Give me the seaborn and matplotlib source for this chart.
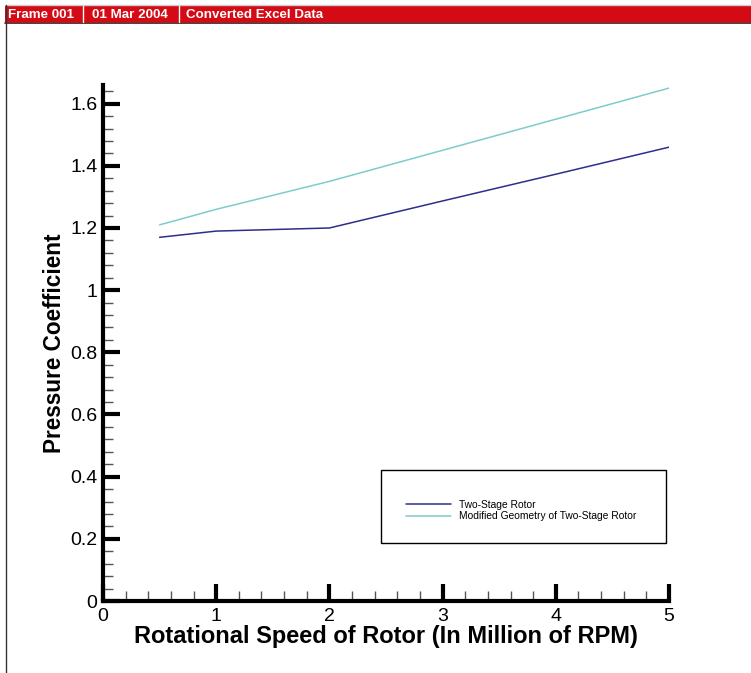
import matplotlib
matplotlib.use("Agg")
import matplotlib.pyplot as plt
import seaborn as sns
import pandas as pd
from matplotlib.patches import Rectangle
from matplotlib.lines import Line2D
from matplotlib.ticker import MultipleLocator, FuncFormatter

speed = [0.5, 1, 2, 3, 4, 5]
two_stage = [1.17, 1.19, 1.20, 1.287, 1.373, 1.46]
modified = [1.21, 1.26, 1.35, 1.45, 1.55, 1.65]
series_names = ["Two-Stage Rotor", "Modified Geometry of Two-Stage Rotor"]
header_texts = ["Frame 001", "01 Mar 2004", "Converted Excel Data"]

df = pd.DataFrame({
    "speed": speed * 2,
    "cp": two_stage + modified,
    "series": [series_names[0]] * len(speed) + [series_names[1]] * len(speed),
})

sns.set_style("white")
plt.rcParams["font.family"] = ["Liberation Sans", "DejaVu Sans"]
plt.rcParams["text.color"] = "black"
plt.rcParams["axes.labelcolor"] = "black"
plt.rcParams["xtick.color"] = "black"
plt.rcParams["ytick.color"] = "black"

fig = plt.figure(figsize=(7.51, 6.73), dpi=100)
ax = fig.add_axes([103 / 751, 1 - 601 / 673, (669 - 103) / 751, (601 - 85) / 673])

colors = {series_names[0]: "#2e2e8a", series_names[1]: "#7fcccc"}
sns.lineplot(data=df, x="speed", y="cp", hue="series", palette=colors, ax=ax,
             linewidth=1.1, legend=False)

ax.set_xlim(0, 5)
ax.set_ylim(0, 1.66)
ax.xaxis.set_major_locator(MultipleLocator(1))
ax.xaxis.set_minor_locator(MultipleLocator(0.2))
ax.yaxis.set_major_locator(MultipleLocator(0.2))
ax.yaxis.set_minor_locator(MultipleLocator(0.04))
fmt = FuncFormatter(lambda v, p: f"{v:g}")
ax.xaxis.set_major_formatter(fmt)
ax.yaxis.set_major_formatter(fmt)

for s in ["top", "right"]:
    ax.spines[s].set_visible(False)
for s in ["left", "bottom"]:
    ax.spines[s].set_linewidth(3)
    ax.spines[s].set_color("black")

ax.tick_params(which="major", direction="in", length=12, width=3, colors="black",
               labelsize=14)
ax.tick_params(axis="x", which="major", pad=5)
ax.tick_params(axis="y", which="major", pad=4)
ax.tick_params(which="minor", direction="in", length=7, width=1, color="#555555")
ax.tick_params(axis="x", which="both", bottom=True)
ax.tick_params(axis="y", which="both", left=True)

ax.set_xlabel("Rotational Speed of Rotor (In Million of RPM)", fontsize=17,
              fontweight="bold", labelpad=0, color="black")
ax.set_ylabel("Pressure Coefficient", fontsize=16.3, fontweight="bold", labelpad=3,
              color="black")

# legend box
box = Rectangle((381 / 751, 1 - 543 / 673), (666 - 381) / 751, (543 - 470) / 673,
                transform=fig.transFigure, facecolor="white", edgecolor="black",
                linewidth=1, zorder=5)
fig.patches.append(box)
handles = [Line2D([], [], color=colors[n], linewidth=1.1) for n in series_names]
leg = fig.legend(handles, series_names, loc="upper left",
                 bbox_to_anchor=(406 / 751, 1 - 500 / 673), frameon=False,
                 fontsize=7.4, handlelength=4.4, handletextpad=0.8,
                 labelspacing=0.12, borderpad=0, borderaxespad=0)
leg.set_zorder(6)

# header bar
fig.patches.append(Rectangle((5 / 751, 1 - 22 / 673), 746 / 751, 17 / 673,
                             transform=fig.transFigure, facecolor="#d40a14",
                             edgecolor="none"))
fig.lines.append(Line2D([5 / 751, 1], [1 - 22.5 / 673] * 2, transform=fig.transFigure,
                        color="#5a0a0a", linewidth=1.2))
fig.lines.append(Line2D([5 / 751, 1], [1 - 4.5 / 673] * 2, transform=fig.transFigure,
                        color="#cccccc", linewidth=1))
fig.lines.append(Line2D([5.5 / 751] * 2, [0, 1 - 5 / 673], transform=fig.transFigure,
                        color="#333333", linewidth=1))
xs = [8, 92, 186]
for x, t in zip(xs, header_texts):
    fig.text(x / 751, 1 - 14.5 / 673, t, color="white", fontsize=9.6, fontweight="bold",
             va="center", ha="left")
for x in [83, 178.5]:
    fig.lines.append(Line2D([x / 751] * 2, [1 - 22 / 673, 1 - 6 / 673],
                            transform=fig.transFigure, color="white", linewidth=1))

fig.savefig("out.png", dpi=100)
